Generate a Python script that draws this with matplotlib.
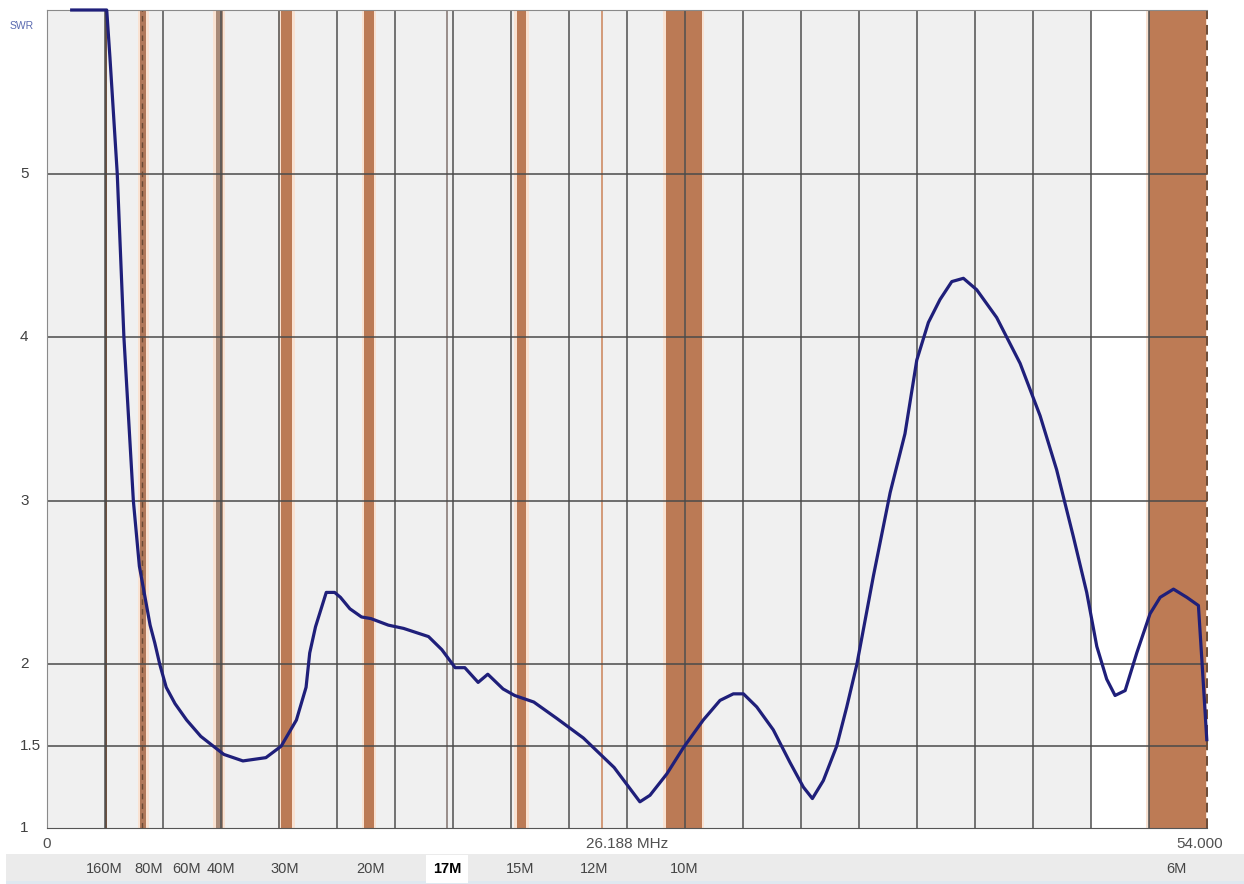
#!/usr/bin/env python3
# swr sweep 0-54 MHz with ham band markers
import matplotlib.pyplot as plt
import matplotlib.transforms as mtransforms
from matplotlib.patches import Rectangle
import numpy as np

# SWR curve (MHz, SWR; 6.0 = off scale)
freq = [1.15, 2.78, 2.93, 3.27, 3.58, 4.02, 4.30, 4.80, 5.02, 5.25, 5.55, 5.96,
        6.50, 7.16, 8.23, 9.12, 10.19, 10.90, 11.61, 12.06, 12.23, 12.50, 13.00,
        13.39, 13.66, 14.10, 14.64, 15.08, 15.89, 16.60, 17.76, 18.38, 19.00,
        19.45, 20.07, 20.52, 21.23, 21.77, 22.66, 23.73, 24.97, 26.40, 27.60,
        28.07, 28.85, 29.62, 30.55, 31.33, 31.95, 32.42, 33.04, 33.81, 34.59,
        35.21, 35.63, 36.14, 36.76, 37.23, 37.70, 38.47, 39.25, 39.94, 40.49,
        41.03, 41.57, 42.12, 42.66, 43.28, 44.21, 45.30, 46.23, 47.00, 47.78,
        48.40, 48.87, 49.33, 49.72, 50.19, 50.73, 51.35, 51.82, 52.44, 53.06,
        53.60, 53.76, 53.99]
swr = [6.0, 6.0, 5.71, 5.0, 4.0, 3.0, 2.6, 2.24, 2.13, 2.0, 1.86, 1.76,
       1.66, 1.56, 1.45, 1.41, 1.43, 1.50, 1.66, 1.86, 2.07, 2.23, 2.44,
       2.44, 2.41, 2.34, 2.29, 2.28, 2.24, 2.22, 2.17, 2.09, 1.98,
       1.98, 1.89, 1.94, 1.85, 1.81, 1.77, 1.67, 1.55, 1.37, 1.16,
       1.20, 1.33, 1.49, 1.66, 1.78, 1.82, 1.82, 1.74, 1.60, 1.40,
       1.25, 1.18, 1.29, 1.50, 1.74, 2.00, 2.54, 3.05, 3.41, 3.86,
       4.09, 4.23, 4.34, 4.36, 4.29, 4.12, 3.84, 3.52, 3.19, 2.78,
       2.44, 2.11, 1.91, 1.81, 1.84, 2.07, 2.31, 2.41, 2.46, 2.41,
       2.36, 2.03, 1.54]

# band markers as drawn on the screen (MHz)
band_lo = [2.70, 4.35, 7.85, 10.87, 14.78, 18.57, 21.88, 25.78, 28.80, 51.28]
band_hi = [2.80, 4.62, 8.17, 11.40, 15.20, 18.66, 22.29, 25.86, 30.47, 53.95]
band_col = ['#6e5140', '#b0785a', '#a88a78', '#bb7a55', '#bb7a55',
            '#9a8f8c', '#bb7a55', '#d39c7c', '#bb7a55', '#bd7b55']

# labels in the strip under the chart
label_names = ['160M', '80M', '60M', '40M', '30M', '20M', '17M', '15M', '12M', '10M', '6M']
label_pos = [2.65, 4.75, 6.52, 8.10, 11.06, 15.04, 18.62, 22.02, 25.47, 29.64, 52.60]

y_grid = [1.5, 2, 3, 4, 5]
y_labels = ['1', '1.5', '2', '3', '4', '5']
y_label_vals = [1, 1.5, 2, 3, 4, 5]
grid_step = 2.7

W, H = 1244, 884
fig = plt.figure(figsize=(W / 100, H / 100), dpi=100)
plt.rcParams['font.family'] = ['Liberation Sans', 'DejaVu Sans']

# bottom band-label strip (drawn behind everything)
fig.patches.append(Rectangle((6 / W, 0), 1, 30 / H, transform=fig.transFigure,
                             facecolor='#ebebeb', edgecolor='none', zorder=-2))
fig.patches.append(Rectangle((6 / W, 0), 1, 3 / H, transform=fig.transFigure,
                             facecolor='#dfe8f0', edgecolor='none', zorder=-2))

ax = fig.add_axes([47 / W, 56 / H, 1160 / W, 818 / H])
ax.set_xlim(0, 54)
ax.set_ylim(1, 6)
ax.set_facecolor('#f0f0f0')

# white cell before 6M
ax.axvspan(48.6, 51.3, color='white', zorder=0.5, lw=0)

for lo, hi, c in zip(band_lo, band_hi, band_col):
    if hi - lo > 0.2:
        ax.axvspan(lo - 0.13, hi + 0.13, color='#f9e2d2', zorder=0.8, lw=0)
    ax.axvspan(lo, hi, color=c, zorder=1, lw=0)

for gx in np.arange(grid_step, 54 - 1, grid_step):
    ax.axvline(gx, color='#4f4f4f', lw=1.1, zorder=2)
for gy in y_grid:
    ax.axhline(gy, color='#4a4a4a', lw=1.1, zorder=2)

ax.axvline(4.42, color='#6a4a35', lw=1.0, ls=(0, (4, 3)), zorder=2.5)
ax.axvline(54, color='#6a4a35', lw=1.4, ls=(0, (5, 3)), zorder=2.5, clip_on=False)

ax.plot(freq, swr, color='#1f1f7a', lw=2.3, zorder=5, clip_on=False,
        solid_joinstyle='round')

ax.set_xticks([])
ax.set_yticks([])
for side in ['top', 'left']:
    ax.spines[side].set_color('#8a8a8a')
ax.spines['bottom'].set_color('#555555')
ax.spines['right'].set_visible(False)

# y labels, left aligned at the window edge
ytr = mtransforms.blended_transform_factory(fig.transFigure, ax.transData)
for v, t in zip(y_label_vals, y_labels):
    ax.text(20 / W, v, t, transform=ytr, ha='left', va='center',
            fontsize=11, color='#404040')
ax.text(10 / W, 5.9, 'SWR', transform=ytr, ha='left', va='center',
        fontsize=7.5, color='#5a6ab0')

# frequency labels under the axis
xtr = mtransforms.blended_transform_factory(ax.transData, fig.transFigure)
ax.text(0, 1 - 844 / H, '0', transform=xtr, ha='center', va='center',
        fontsize=11, color='#505050')
ax.text(27.0, 1 - 844 / H, '26.188 MHz', transform=xtr, ha='center', va='center',
        fontsize=11, color='#505050')
ax.text(53.66, 1 - 844 / H, '54.000', transform=xtr, ha='center', va='center',
        fontsize=11, color='#505050')

for name, x in zip(label_names, label_pos):
    kw = dict(transform=xtr, ha='center', va='center', fontsize=10.5,
              family=['Liberation Sans Narrow', 'Liberation Sans'], color='#454545')
    if name == '17M':
        kw.update(color='black', fontweight='bold',
                  bbox=dict(facecolor='white', edgecolor='none', pad=5))
    ax.text(x, 1 - 869 / H, name, **kw)

fig.savefig('out.png', dpi=100)
